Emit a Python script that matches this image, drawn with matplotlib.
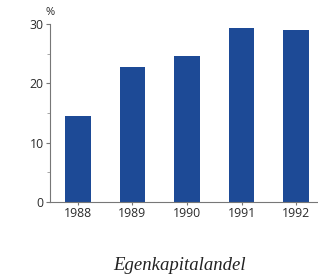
import matplotlib
matplotlib.use('Agg')
import matplotlib.pyplot as plt
from matplotlib.ticker import MultipleLocator

years = ['1988', '1989', '1990', '1991', '1992']
andel = [14.5, 22.8, 24.6, 29.3, 29.0]

fig = plt.figure(figsize=(3.18, 2.79), dpi=100)
ax = fig.add_axes([0.157, 0.276, 0.843, 0.638])

ax.bar(range(len(years)), andel, width=0.47, color='#1d4a96')

ax.set_xlim(-0.51, 4.4)
ax.set_ylim(0, 30)
ax.set_xticks(range(len(years)))
ax.set_xticklabels(years)
ax.yaxis.set_major_locator(MultipleLocator(10))
ax.yaxis.set_minor_locator(MultipleLocator(5))

for s in ['top', 'right']:
    ax.spines[s].set_visible(False)
for s in ['left', 'bottom']:
    ax.spines[s].set_color('#777777')
    ax.spines[s].set_linewidth(0.8)

ax.tick_params(axis='both', colors='#777777', labelcolor='#2a2a2a',
               labelsize=8.8, length=3, width=0.8, pad=1.5)
ax.tick_params(axis='y', which='minor', colors='#999999', length=2, width=0.6)
ax.tick_params(axis='x', length=2)
for lab in ax.get_xticklabels() + ax.get_yticklabels():
    lab.set_family('Open Sans')

fig.text(0.157, 0.955, '%', ha='center', va='center', fontsize=8,
         family='Open Sans', color='#2a2a2a')
fig.text(0.563, 0.05, 'Egenkapitalandel', ha='center', va='center',
         fontsize=13.5, style='italic', family='Liberation Serif', color='#222222')

fig.savefig('out.png', dpi=100)
